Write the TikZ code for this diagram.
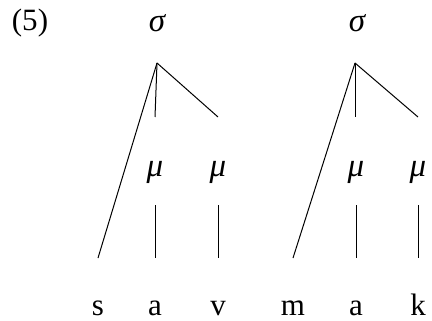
\documentclass[tikz,border=0pt]{standalone}
\usepackage{fontspec}
\setmainfont{Liberation Serif}
\usetikzlibrary{positioning,calc}

\begin{document}
\begin{tikzpicture}[x=0.5pt,y=-0.5pt,line width=.5pt,
  lbl/.style={font=\fontsize{15.5}{18}\selectfont,inner sep=0pt,anchor=base},
  grk/.style={lbl,font=\fontsize{16.5}{18}\selectfont\itshape},
  branch/.style={draw=black,line width=.5pt}]
\useasboundingbox (0,0) rectangle (432,320);

\node[lbl] (ex) at (30,31) {(5)};

% ============ SYLLABLE 1 : s a v ============
\node[grk] (sig1) at (157,32) {σ};
\coordinate (top1) at (157,63);
\node[grk] (mu1a) at (155,176) {μ};
\node[grk] (mu1b) at (218,176) {μ};
\node[lbl] (s1) at (98,315) {s};
\node[lbl] (a1) at (155,315) {a};
\node[lbl] (v1) at (218,315) {v};
% branch ends
\coordinate (on1) at (98,258);
\coordinate (m1a) at (155,117);
\coordinate (m1b) at (218,117);
\foreach \a/\b in {top1/on1,top1/m1a,top1/m1b}\draw[branch] (\a)--(\b);
\foreach \x in {155,218}\draw[branch] (\x,205)--(\x,258);

% ============ SYLLABLE 2 : m a k ============
\node[grk] (sig2) at (357,32) {σ};
\coordinate (top2) at (355,63);
\node[grk] (mu2a) at (356,176) {μ};
\node[grk] (mu2b) at (418,176) {μ};
\node[lbl] (m2) at (293,315) {m};
\node[lbl] (a2) at (356,315) {a};
\node[lbl] (k2) at (418,315) {k};
% branch ends
\coordinate (on2) at (293,258);
\coordinate (m2a) at (355,117);
\coordinate (m2b) at (418,117);
\foreach \a/\b in {top2/on2,top2/m2a,top2/m2b}\draw[branch] (\a)--(\b);
\foreach \x in {356,418}\draw[branch] (\x,205)--(\x,258);

\end{tikzpicture}
\end{document}
